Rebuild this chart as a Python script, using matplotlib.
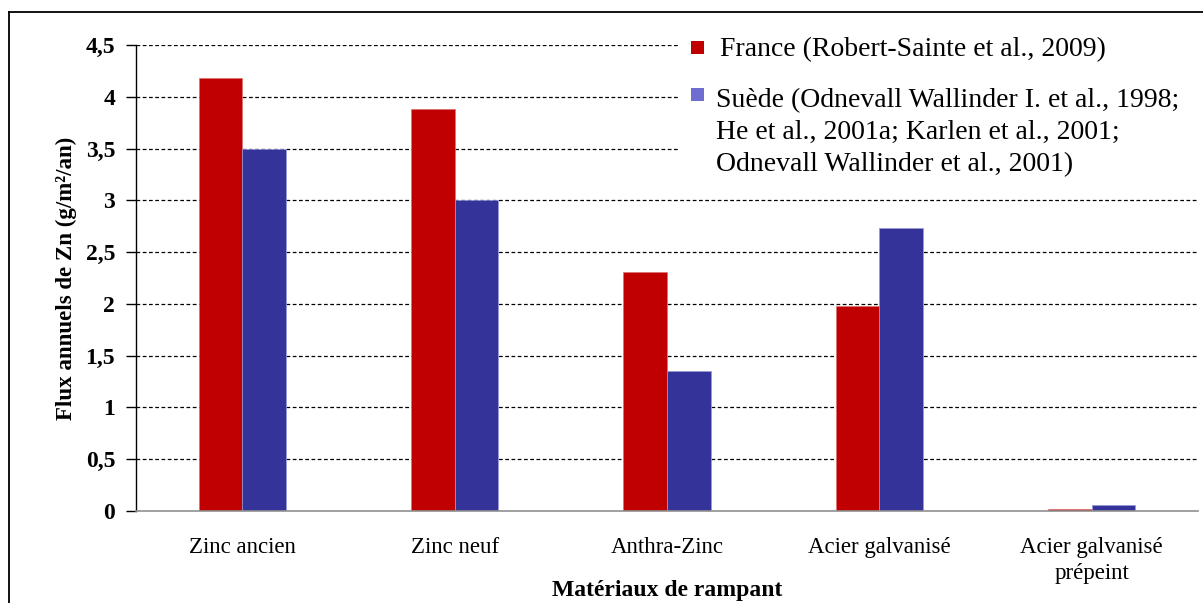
import matplotlib
matplotlib.use("Agg")
import matplotlib.pyplot as plt
from matplotlib.lines import Line2D
from matplotlib.patches import Rectangle
import numpy as np

categories = ["Zinc ancien", "Zinc neuf", "Anthra-Zinc", "Acier galvanisé",
              "Acier galvanisé\nprépeint"]
france = [4.18, 3.88, 2.31, 1.98, 0.02]
suede = [3.50, 3.00, 1.35, 2.73, 0.06]
series_labels = [
    "France (Robert-Sainte et al., 2009)",
    "Suède (Odnevall Wallinder I. et al., 1998;\nHe et al., 2001a; Karlen et al., 2001;\nOdnevall Wallinder et al., 2001)",
]
yticks = [0, 0.5, 1, 1.5, 2, 2.5, 3, 3.5, 4, 4.5]
ytick_labels = ["0", "0,5", "1", "1,5", "2", "2,5", "3", "3,5", "4", "4,5"]

red = "#C00000"
blue = "#333399"
legend_colors = [red, "#6E6ED0"]

plt.rcParams["font.family"] = ["Liberation Serif", "DejaVu Serif"]

W, H = 1203, 603
fig = plt.figure(figsize=(W / 100, H / 100), dpi=100)
ax = fig.add_axes([136 / W, 1 - 511 / H, (1198 - 136) / W, (511 - 45) / H])

x = np.arange(len(categories))
bw = 0.205
ax.bar(x - bw / 2, france, width=bw, color=red, edgecolor="#e07070",
       linewidth=0.5, zorder=3)
ax.bar(x + bw / 2, suede, width=bw, color=blue, edgecolor="#9a9ad8",
       linewidth=0.5, zorder=3)

ax.set_xlim(-0.5, len(categories) - 0.5)
ax.set_ylim(0, 4.5)
ax.set_yticks(yticks)
ax.set_yticklabels(ytick_labels, fontsize=17, fontweight="bold")
ax.set_xticks(x)
ax.set_xticklabels(categories, fontsize=16.5, linespacing=1.3)
ax.tick_params(axis="x", length=0, pad=19)
ax.tick_params(axis="y", direction="out", length=7, width=1, pad=8)

for y in yticks[1:]:
    ax.axhline(y, color="black", linestyle=(0, (3, 2)), linewidth=0.9, zorder=1)

for side in ("top", "right"):
    ax.spines[side].set_visible(False)
ax.spines["left"].set_color("black")
ax.spines["left"].set_linewidth(1.0)
ax.spines["bottom"].set_color("#909090")
ax.spines["bottom"].set_linewidth(1.2)
ax.spines["bottom"].set_zorder(4)

ax.set_ylabel("Flux annuels de Zn (g/m²/an)", fontsize=16.5, fontweight="bold",
              labelpad=6)
ax.set_xlabel("Matériaux de rampant", fontsize=17, fontweight="bold")
ax.xaxis.set_label_coords(0.5, -(580 - 511) / (511 - 45))
ax.xaxis.label.set_va("top")

# legend block: white background over the gridlines, square keys, serif labels
fig.add_artist(Rectangle((680 / W, 1 - 186 / H), (W - 680) / W, (186 - 24) / H,
                         transform=fig.transFigure, facecolor="white",
                         edgecolor="none", zorder=2))
key_tops = [41, 88]
text_x = [720, 716]
text_centers = [47, 98]
for color, label, top, tx, tc in zip(legend_colors, series_labels, key_tops,
                                     text_x, text_centers):
    fig.add_artist(Rectangle((691 / W, 1 - (top + 13) / H), 13 / W, 13 / H,
                             transform=fig.transFigure, facecolor=color,
                             edgecolor="none", zorder=3))
    fig.text(tx / W, 1 - (tc - 10) / H, label, fontsize=20, va="top",
             ha="left", linespacing=1.38, zorder=3)

# outer frame
fig.add_artist(Line2D([9 / W, 9 / W], [0, 1 - 12 / H], transform=fig.transFigure,
                      color="black", linewidth=1.3))
fig.add_artist(Line2D([9 / W, 1], [1 - 12 / H, 1 - 12 / H], transform=fig.transFigure,
                      color="black", linewidth=1.3))

fig.savefig("out.png", dpi=100)
